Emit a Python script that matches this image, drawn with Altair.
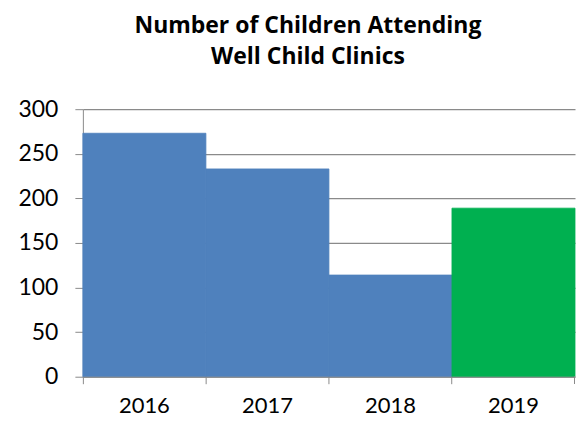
import altair as alt
import pandas as pd

years = ["2016", "2017", "2018", "2019"]
children = [273, 233, 114, 189]
bar_colors = ["#4F81BD", "#4F81BD", "#4F81BD", "#00B050"]

df = pd.DataFrame({"year": years, "children": children, "color": bar_colors})

W = 493
H = 268
GRAY = "#8a8a8a"
FONT = "Lato"

bars = alt.Chart(df).mark_bar(size=W / 4, strokeWidth=0.8).encode(
    x=alt.X(
        "year:N",
        sort=years,
        scale=alt.Scale(paddingInner=0, paddingOuter=0),
        axis=alt.Axis(
            title=None,
            bandPosition=0,
            labelAngle=0,
            tickSize=7,
            labelPadding=12,
            domainColor=GRAY,
            tickColor=GRAY,
            labelColor="#000000",
            labelFont=FONT,
            labelFontSize=22,
            zindex=1,
        ),
    ),
    y=alt.Y(
        "children:Q",
        scale=alt.Scale(domain=[0, 300]),
        axis=alt.Axis(
            title=None,
            values=[0, 50, 100, 150, 200, 250, 300],
            tickSize=8,
            labelPadding=17,
            domainColor=GRAY,
            tickColor=GRAY,
            gridColor=GRAY,
            gridWidth=1.3,
            labelColor="#000000",
            labelFont=FONT,
            labelFontSize=23,
        ),
    ),
    color=alt.Color("color:N", scale=None, legend=None),
    stroke=alt.Stroke("color:N", scale=None, legend=None),
)

last_tick = alt.Chart(df).mark_rule(color=GRAY, strokeWidth=1).encode(
    x=alt.value(W - 0.5), y=alt.value(H), y2=alt.value(H + 7)
)

chart = (
    alt.layer(bars, last_tick)
    .properties(
        width=W,
        height=H,
        padding={"left": 9, "top": 7, "right": 0, "bottom": 0},
        title=alt.TitleParams(
            text=["Number of Children Attending", "Well Child Clinics"],
            font="Open Sans",
            fontSize=23,
            fontWeight="bold",
            color="#000000",
            lineHeight=31,
            anchor="middle",
            frame="group",
            dx=-21,
            offset=29,
        ),
    )
    .configure_view(stroke=None)
)

chart.save("out.html", embed_options={"renderer": "svg", "actions": False})
